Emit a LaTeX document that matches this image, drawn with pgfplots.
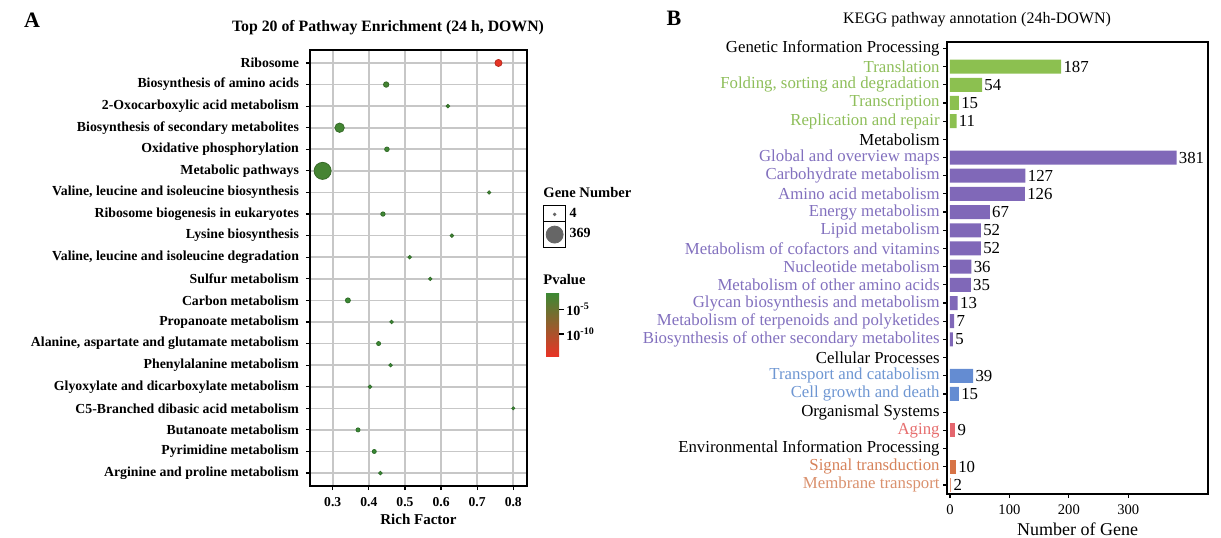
\documentclass[border=0pt]{standalone}
\usepackage{fontspec}
\setmainfont{Liberation Serif}
\usepackage{pgfplots}
\pgfplotsset{compat=1.18}
\usepackage{pgfplotstable}
\pgfplotsset{/pgf/number format/assume math mode=true}

\definecolor{gL}{RGB}{142,190,90}
\definecolor{gB}{RGB}{140,192,80}
\definecolor{pL}{RGB}{130,112,190}
\definecolor{pB}{RGB}{128,104,184}
\definecolor{bL}{RGB}{110,150,210}
\definecolor{bB}{RGB}{100,140,210}
\definecolor{aL}{RGB}{230,110,110}
\definecolor{aB}{RGB}{228,102,110}
\definecolor{sL}{RGB}{214,130,90}
\definecolor{sB}{RGB}{215,115,70}
\definecolor{mL}{RGB}{218,145,110}
\definecolor{mB}{RGB}{225,150,120}

\pgfplotstableread{
rf row genes logp
0.759 1 53 -14.4
0.448 2 29 -2.3
0.619 3 10 -2.0
0.319 4 102 -2.2
0.450 5 19 -2.0
0.272 6 369 -2.4
0.733 7 9 -2.0
0.439 8 17 -1.9
0.630 9 10 -1.9
0.513 10 10 -1.8
0.570 11 9 -1.8
0.342 12 24 -1.7
0.463 13 10 -1.7
0.427 14 14 -1.7
0.460 15 10 -1.6
0.403 16 10 -1.6
0.800 17 6 -1.6
0.370 18 14 -1.5
0.415 19 14 -1.5
0.432 20 10 -1.5
}\enrich

\begin{document}
\begin{tikzpicture}
\useasboundingbox (0,0) rectangle (610.5pt,268.5pt);

\node[font=\bfseries\fontsize{11}{12}\selectfont] at (16pt,258.5pt) {A};
\node[font=\bfseries\fontsize{7.9}{9}\selectfont] at (194pt,254.5pt) {Top 20 of Pathway Enrichment (24 h, DOWN)};
\node[font=\bfseries\fontsize{11}{12}\selectfont] at (337pt,259.5pt) {B};
\node[font=\fontsize{8}{9}\selectfont] at (488.5pt,258.5pt) {KEGG pathway annotation (24h-DOWN)};
\node[font=\bfseries\fontsize{7.3}{8}\selectfont, anchor=west, inner sep=0pt] at (271.5pt,172pt) {Gene Number};
\node[font=\bfseries\fontsize{7.3}{8}\selectfont, anchor=west, inner sep=0pt] at (271.5pt,128.5pt) {Pvalue};

\begin{axis}[
  at={(155pt,25.5pt)}, anchor=south west,
  scale only axis, width=108.5pt, height=218pt,
  xmin=0.237, xmax=0.838, ymin=0.4, ymax=20.6, y dir=reverse,
  xtick={0.3,0.4,0.5,0.6,0.7,0.8},
  xticklabels={0.3,0.4,0.5,0.6,0.7,0.8},
  ytick={1,...,20},
  yticklabels={Ribosome,Biosynthesis of amino acids,2-Oxocarboxylic acid metabolism,Biosynthesis of secondary metabolites,Oxidative phosphorylation,Metabolic pathways,{Valine, leucine and isoleucine biosynthesis},Ribosome biogenesis in eukaryotes,Lysine biosynthesis,{Valine, leucine and isoleucine degradation},Sulfur metabolism,Carbon metabolism,Propanoate metabolism,{Alanine, aspartate and glutamate metabolism},Phenylalanine metabolism,Glyoxylate and dicarboxylate metabolism,C5-Branched dibasic acid metabolism,Butanoate metabolism,Pyrimidine metabolism,Arginine and proline metabolism},
  grid=major, major grid style={draw=black!22, line width=0.8pt},
  axis line style={black, line width=0.8pt},
  tick align=outside, major tick length=2pt, tick style={black, line width=0.6pt},
  xtick pos=left, ytick pos=left,
  yticklabel style={font=\bfseries\fontsize{6.9}{8}\selectfont},
  xticklabel style={font=\bfseries\fontsize{6.8}{8}\selectfont},
  xlabel={\textbf{Rich Factor}}, xlabel style={font=\fontsize{7.5}{9}\selectfont, yshift=3pt},
  clip=false,
  colormap={rg}{rgb255=(232,52,38) rgb255=(58,138,52)},
  point meta min=-14.45, point meta max=-1.44,
  colorbar,
  colorbar style={
    at={(parent axis.north east)}, anchor=north west,
    xshift=1pt, yshift=-121pt,
    scale only axis, width=6.5pt, height=32pt,
    ytick={-10,-5},
    yticklabels={\textbf{10}\textsuperscript{\textbf{-10}},\textbf{10}\textsuperscript{\textbf{-5}}},
    yticklabel style={font=\fontsize{7}{8}\selectfont, inner sep=1pt},
    axis line style={draw=none},
    tick align=outside, major tick length=2.5pt, tick style={black, line width=0.7pt},
    ytick pos=right, yticklabel pos=right,
  },
  legend style={at={(1.074,0.645)}, anchor=north west, draw=none, fill=none,
    row sep=-1.5pt, inner sep=0pt, outer sep=0pt,
    font=\bfseries\fontsize{7}{8}\selectfont, legend cell align=left,
    nodes={inner sep=0.5pt}},
]
\addplot[scatter, only marks, mark=*, forget plot,
  point meta=\thisrow{logp},
  visualization depends on={0.23+0.2095*sqrt(\thisrow{genes}) \as \ms},
  scatter/@pre marker code/.append style={/tikz/mark size=\ms pt}]
  table[x=rf, y=row]{\enrich};
\addlegendimage{legend image code/.code={\draw[black,line width=0.6pt,fill=white] (0pt,-4.5pt) rectangle (11pt,4.5pt); \fill[black!60] (5.5pt,0pt) circle (0.65pt);}}
\addlegendentry{\,4}
\addlegendimage{legend image code/.code={\draw[black,line width=0.6pt,fill=white] (0pt,-6.5pt) rectangle (11pt,6.5pt); \fill[black!60] (5.5pt,0pt) circle (4.25pt);}}
\addlegendentry{\,369}
\end{axis}

\begin{axis}[
  at={(473.5pt,21.5pt)}, anchor=south west,
  scale only axis, width=130.5pt, height=226pt,
  xbar, bar width=7pt,
  xmin=-5, xmax=434, ymin=0.65, ymax=25.5, y dir=reverse,
  xtick={0,100,200,300},
  ytick={1,...,25},
  yticklabels={Genetic Information Processing,\textcolor{gL}{Translation},{\textcolor{gL}{Folding, sorting and degradation}},\textcolor{gL}{Transcription},\textcolor{gL}{Replication and repair},Metabolism,\textcolor{pL}{Global and overview maps},\textcolor{pL}{Carbohydrate metabolism},\textcolor{pL}{Amino acid metabolism},\textcolor{pL}{Energy metabolism},\textcolor{pL}{Lipid metabolism},\textcolor{pL}{Metabolism of cofactors and vitamins},\textcolor{pL}{Nucleotide metabolism},\textcolor{pL}{Metabolism of other amino acids},\textcolor{pL}{Glycan biosynthesis and metabolism},\textcolor{pL}{Metabolism of terpenoids and polyketides},\textcolor{pL}{Biosynthesis of other secondary metabolites},Cellular Processes,\textcolor{bL}{Transport and catabolism},\textcolor{bL}{Cell growth and death},Organismal Systems,\textcolor{aL}{Aging},Environmental Information Processing,\textcolor{sL}{Signal transduction},\textcolor{mL}{Membrane transport}},
  tick align=outside, major tick length=2pt, tick style={black, line width=0.6pt},
  xtick pos=left, ytick pos=left,
  axis line style={black, line width=0.8pt},
  yticklabel style={font=\fontsize{8.4}{9}\selectfont, inner sep=1.5pt},
  xticklabel style={font=\fontsize{7.3}{8}\selectfont},
  xlabel={Number of Gene}, xlabel style={font=\fontsize{9}{10}\selectfont, yshift=3pt},
  nodes near coords,
  nodes near coords style={black, font=\fontsize{8.4}{9}\selectfont, anchor=west, inner sep=1pt},
  clip=false,
]
\addplot[fill=gB, draw=none, bar shift=0pt] coordinates {(187,2) (54,3) (15,4) (11,5)};
\addplot[fill=pB, draw=none, bar shift=0pt] coordinates {(381,7) (127,8) (126,9) (67,10) (52,11) (52,12) (36,13) (35,14) (13,15) (7,16) (5,17)};
\addplot[fill=bB, draw=none, bar shift=0pt] coordinates {(39,19) (15,20)};
\addplot[fill=aB, draw=none, bar shift=0pt] coordinates {(9,22)};
\addplot[fill=sB, draw=none, bar shift=0pt] coordinates {(10,24)};
\addplot[fill=mB, draw=none, bar shift=0pt] coordinates {(2,25)};
\end{axis}
\end{tikzpicture}
\end{document}
